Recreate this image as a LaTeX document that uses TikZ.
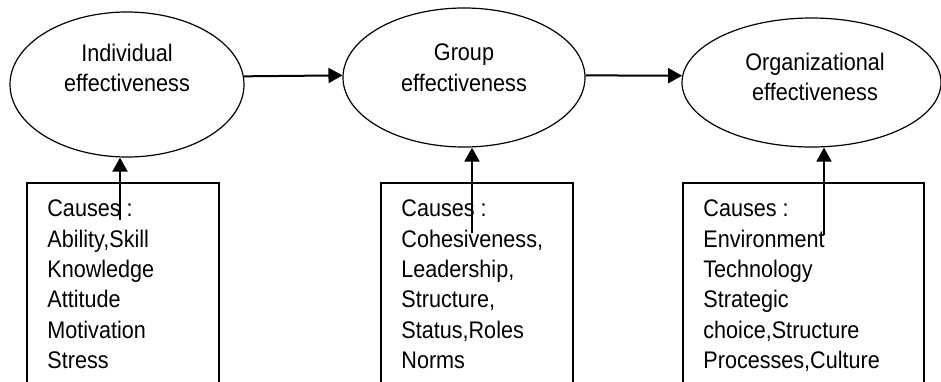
\documentclass[tikz,border=0pt]{standalone}
\usepackage{fontspec}
\setmainfont{Liberation Sans}[FakeStretch=0.9]
\usetikzlibrary{arrows.meta,calc,positioning,shapes.geometric}
\tikzset{
  effect/.style={
    ellipse, draw=black, line width=0.6pt, inner sep=0pt
  },
  effecttext/.style={
    align=center, inner sep=0pt, anchor=north,
    font=\fontsize{12}{15.2}\selectfont
  },
  causebox/.style={
    draw=black, line width=0.75pt, anchor=north west, inner sep=0pt,
    minimum height=100.5pt
  },
  causetext/.style={
    align=left, inner sep=0pt, anchor=north west,
    font=\fontsize{12}{15.2}\selectfont
  },
  flow/.style={-{Triangle[length=7pt,width=7.5pt]}, line width=1pt, draw=black}
}

\begin{document}
\begin{tikzpicture}[x=0.5pt,y=-0.5pt]
    \useasboundingbox (0,0) rectangle (941,381);
    \clip (0,0) rectangle (941,381);

    % effectiveness levels
    \node[effect,minimum width=117pt,minimum height=72.5pt] (indiv) at (127,84.5) {};
    \node[effect,minimum width=121pt,minimum height=69.5pt] (group) at (464,77.5) {};
    \node[effect,minimum width=129.5pt,minimum height=64.5pt] (org) at (811.5,82.5) {};
    \node[effecttext] (indivtext) at (127,43.5) {Individual\\effectiveness};
    \node[effecttext] (grouptext) at (464,43.5) {Group\\effectiveness};
    \node[effecttext] (orgtext) at (815,52.5) {Organizational\\effectiveness};

    % causes
    \node[causebox,minimum width=96pt] (indivbox) at (26,182) {};
    \node[causebox,minimum width=96pt] (groupbox) at (380,182) {};
    \node[causebox,minimum width=120.5pt] (orgbox) at (682,182) {};
    \node[causetext] (indivcauses) at (47,199.5)
      {Causes :\\Ability,Skill\\Knowledge\\Attitude\\Motivation\\Stress};
    \node[causetext] (groupcauses) at (401,199.5)
      {Causes :\\Cohesiveness,\\Leadership,\\Structure,\\Status,Roles\\Norms};
    \node[causetext] (orgcauses) at (703,199.5)
      {Causes :\\Environment\\Technology\\Strategic\\choice,Structure\\Processes,Culture};

    \coordinate (indivfoot) at (120,220);
    \coordinate (groupfoot) at (472,233);
    \coordinate (orgfoot) at (824,235);

    \draw[flow] (indiv.4) -- (group.179);
    \draw[flow] (group.1) -- (org.177);
    \draw[flow] (indivfoot) -- (indivfoot |- indiv.south);
    \draw[flow] (groupfoot) -- (groupfoot |- group.south);
    \draw[flow] (orgfoot) -- (orgfoot |- org.south);
  \end{tikzpicture}
\end{document}
